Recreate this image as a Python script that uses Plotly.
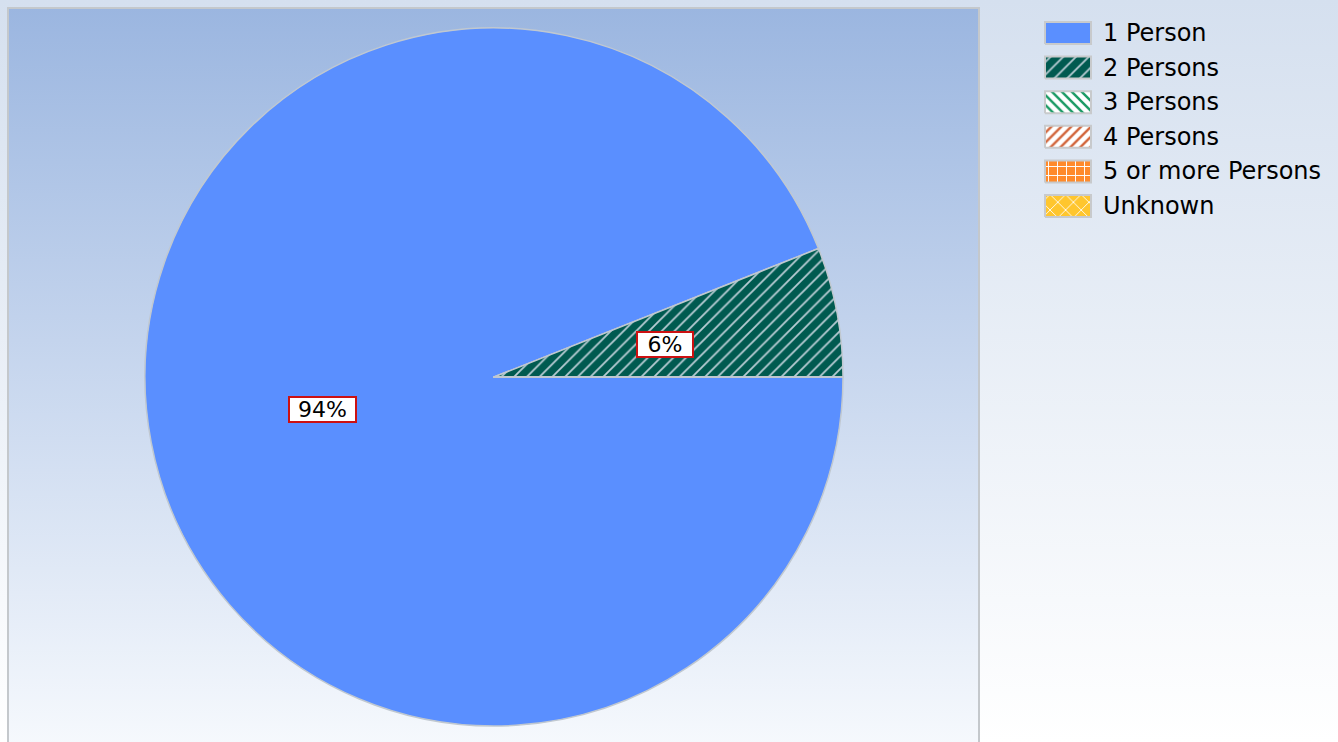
import math
import plotly.graph_objects as go

# ---- data ----
categories = ["1 Person", "2 Persons", "3 Persons", "4 Persons", "5 or more Persons", "Unknown"]
values = [94, 6, 0, 0, 0, 0]

# ---- styles ----
slice_colors = ["#5a8fff", "#005a50", "#ffffff", "#ffffff", "#ff8a2a", "#ffc62e"]
pattern_shapes = ["", "/", "\\", "/", "+", "x"]
pattern_fg = ["#5a8fff", "#b8ccd4", "#1a9a64", "#d2663c", "#ffffff", "#ffffff"]
legend_pattern_size = [9, 9, 7, 7, 9, 11]
legend_solidity = [0.2, 0.2, 0.35, 0.35, 0.2, 0.15]

W, H = 1338, 742
CX, CY, R = 494, 377, 349          # pie centre / radius in pixels
LABEL_FRAC = 0.5
LEG_X, LEG_Y0, LEG_STEP = 1045, 33, 34.6
SW_W, SW_H = 46, 22

fig = go.Figure()

# page background gradient
fig.add_trace(go.Scatter(
    x=[0, W, W, 0, 0], y=[0, 0, H, H, 0], mode="lines", fill="toself",
    line=dict(width=0), fillgradient=dict(type="vertical",
    colorscale=[[0, "#ffffff"], [1, "#d5e0ef"]]),
    hoverinfo="skip", showlegend=False))
# panel background gradient
fig.add_trace(go.Scatter(
    x=[8, 979, 979, 8, 8], y=[-5, -5, H - 8, H - 8, -5], mode="lines", fill="toself",
    line=dict(width=2, color="#c4c8cc"), fillgradient=dict(type="vertical",
    colorscale=[[0, "#f6f9fd"], [1, "#9bb6e0"]]),
    hoverinfo="skip", showlegend=False))

fig.add_trace(go.Pie(
    labels=categories, values=values, sort=False, direction="clockwise",
    rotation=90, textinfo="none", hoverinfo="label+percent",
    marker=dict(colors=slice_colors, line=dict(color="#c0c8d0", width=1.5),
                pattern=dict(shape=pattern_shapes, fgcolor=pattern_fg,
                             bgcolor=slice_colors, size=9, solidity=0.2)),
    domain=dict(x=[(CX - R) / W, (CX + R) / W], y=[1 - (CY + R) / H, 1 - (CY - R) / H]),
    showlegend=False,
))

# percentage labels in boxes at slice mid-angles
total = sum(values)
cum = 0
for lab, v in zip(categories, values):
    if v > 0:
        mid = -(cum + v / 2) / total * 2 * math.pi  # clockwise from 3 o'clock
        px = CX + LABEL_FRAC * R * math.cos(mid)
        py = CY - LABEL_FRAC * R * math.sin(mid)
        txt = f"{round(v / total * 100)}%"
        fig.add_annotation(x=px / W, y=1 - py / H, xref="paper", yref="paper",
                           xanchor="center", yanchor="middle",
                           text=txt, showarrow=False,
                           font=dict(family="DejaVu Sans", size=22, color="#000000"),
                           bgcolor="#ffffff", bordercolor="#cc1111", borderwidth=2,
                           borderpad=0, width=32 + 11 * len(txt), height=23)
    cum += v

# legend: patterned swatches + labels
for i, lab in enumerate(categories):
    cy = LEG_Y0 + i * LEG_STEP
    y0, y1 = H - (cy + SW_H / 2), H - (cy - SW_H / 2)
    fig.add_trace(go.Scatter(
        x=[LEG_X, LEG_X + SW_W, LEG_X + SW_W, LEG_X, LEG_X],
        y=[y0, y0, y1, y1, y0], mode="lines", fill="toself",
        fillcolor=slice_colors[i], line=dict(color="#c8cacc", width=2),
        fillpattern=dict(shape=pattern_shapes[i], fgcolor=pattern_fg[i],
                         bgcolor=slice_colors[i], fillmode="replace",
                         size=legend_pattern_size[i], solidity=legend_solidity[i]),
        hoverinfo="skip", showlegend=False))
    fig.add_annotation(x=LEG_X + 56, y=H - cy, xref="x", yref="y", text=lab,
                       showarrow=False, xanchor="left", yanchor="middle",
                       font=dict(family="DejaVu Sans", size=24, color="#000000"))

fig.update_layout(
    width=W, height=H, margin=dict(l=0, r=0, t=0, b=0),
    paper_bgcolor="#ffffff", plot_bgcolor="rgba(0,0,0,0)",
    xaxis=dict(range=[0, W], visible=False, fixedrange=True),
    yaxis=dict(range=[0, H], visible=False, fixedrange=True),
    showlegend=False,
)

fig.write_html("out.html", config={"displayModeBar": False},
               post_script="document.body.style.margin='0';")
